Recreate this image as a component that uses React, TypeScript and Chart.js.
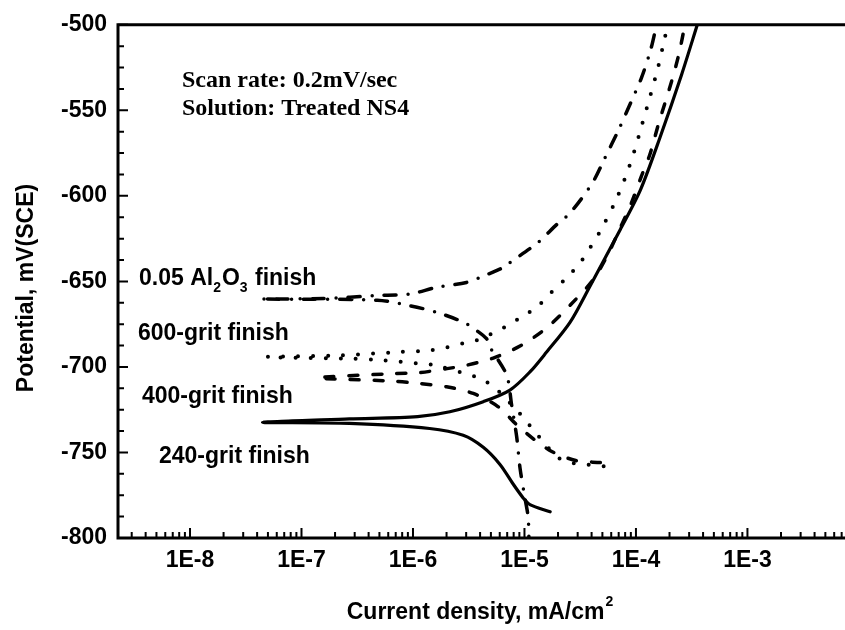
import React, { useEffect, useRef } from 'react';
import { Chart, registerables } from 'chart.js';

Chart.register(...registerables);

// ---------- data (current density in mA/cm², potential in mV vs SCE) ----------
// each path: cathodic end -> corrosion tip -> anodic end
const grit240Current = [
  1.70e-5, 1.12e-5, 9.77e-6, 7.94e-6, 6.03e-6, 4.27e-6, 2.82e-6, 1.41e-6, 2.69e-7, 4.47e-8,
  2.69e-7, 1.10e-6, 2.14e-6, 4.27e-6, 7.41e-6, 1.12e-5, 1.58e-5, 2.57e-5, 3.89e-5, 7.24e-5,
  1.10e-4, 1.64e-4, 2.57e-4, 3.55e-4,
];
const grit240Potential = [
  -784.7, -780.5, -776.7, -768.6, -757, -747, -740, -736, -733, -732.4,
  -730.4, -729, -726.2, -720.3, -713.5, -702.9, -691.3, -673.8, -652.5, -619.6,
  -596.3, -566, -529, -500,
];

const grit400Current = [
  4.79e-5, 2.88e-5, 1.66e-5, 8.91e-6, 5.82e-6, 3.47e-6, 2.00e-6, 1.15e-6, 6.61e-7, 1.41e-7,
  6.61e-7, 1.15e-6, 2.02e-6, 3.02e-6, 5.25e-6, 9.12e-6, 1.58e-5, 2.63e-5, 4.17e-5, 5.62e-5,
  7.24e-5, 9.12e-5, 1.12e-4, 1.33e-4, 1.60e-4, 2.09e-4, 2.43e-4, 2.75e-4,
];
const grit400Potential = [
  -755.9, -754.7, -748.5, -735, -723.3, -715.5, -711.6, -709.7, -708.3, -706.4,
  -703.9, -703.3, -701, -699, -694.8, -687.8, -677.2, -663.2, -648.7, -634,
  -618.6, -604, -588.5, -576, -557.6, -533, -517, -500,
];

const grit600Current = [
  5.13e-5, 3.72e-5, 2.75e-5, 2.00e-5, 1.20e-5, 9.44e-6, 5.43e-6, 3.98e-6, 2.95e-6, 1.58e-6,
  1.15e-6, 5.37e-7, 2.92e-7, 4.90e-8,
  2.24e-7, 7.41e-7, 1.41e-6, 1.95e-6, 2.75e-6, 3.72e-6, 6.68e-6, 9.33e-6, 1.29e-5, 1.74e-5,
  2.40e-5, 3.16e-5, 3.89e-5, 4.79e-5, 6.46e-5, 7.94e-5, 9.55e-5, 1.12e-4, 1.35e-4, 1.58e-4,
  1.78e-4, 1.93e-4,
];
const grit600Potential = [
  -758.1, -757.1, -756.2, -752.9, -736.8, -728.5, -712.2, -706.8, -703.9, -699,
  -698.1, -696.1, -695.2, -694.2,
  -693.2, -691.3, -690.3, -688.7, -686.4, -684.5, -676.7, -670.9, -665, -656.4,
  -647.7, -639, -630.2, -620.5, -604, -590, -575, -559.5, -541, -524.8,
  -510, -500,
];

const al2o3Current = [
  1.10e-5, 1.08e-5, 1.01e-5, 9.12e-6, 8.51e-6, 7.67e-6, 6.92e-6, 4.90e-6, 4.57e-6, 3.72e-6,
  2.82e-6, 1.62e-6, 9.33e-7, 4.79e-7, 4.27e-8,
  1.58e-7, 4.68e-7, 9.33e-7, 1.62e-6, 3.02e-6, 3.98e-6, 6.46e-6, 7.41e-6, 1.32e-5, 1.95e-5,
  2.57e-5, 4.07e-5, 5.25e-5, 6.92e-5, 8.91e-5, 1.12e-4, 1.35e-4, 1.53e-4,
];
const al2o3Potential = [
  -806, -788.2, -776.6, -759.1, -740.7, -722.3, -704.8, -688.4, -683.5, -678.7,
  -673.8, -668, -664.2, -661, -660.3,
  -660, -658.3, -657.4, -653.5, -650.6, -647.7, -641.9, -639, -627.3, -616.7,
  -610, -592.4, -578, -562, -546, -531, -515, -500,
];

const xTickValues = [1e-8, 1e-7, 1e-6, 1e-5, 1e-4, 1e-3];
const xTickLabels = ['1E-8', '1E-7', '1E-6', '1E-5', '1E-4', '1E-3'];
const yTickValues = [-800, -750, -700, -650, -600, -550, -500];
const xRange = [2.26e-9, 7.5e-3];
const yRange = [-800, -500];

const xTitle = 'Current density, mA/cm';
const xTitleSup = '2';
const yTitle = 'Potential, mV(SCE)';
const noteLines = ['Scan rate: 0.2mV/sec', 'Solution: Treated NS4'];
const finishLabels = ['0.05 Al_2O_3 finish', '600-grit finish', '400-grit finish', '240-grit finish'];

// ---------- helpers ----------
const SANS = '"Liberation Sans", Arial, Helvetica, sans-serif';
const SERIF = '"Liberation Serif", "Times New Roman", serif';

function pts(xs: number[], ys: number[]) {
  return xs.map((x, i) => ({ x, y: ys[i] }));
}

// draws text where "_d" marks a subscript character
function drawRich(ctx: CanvasRenderingContext2D, text: string, x: number, y: number, size: number) {
  const parts: { t: string; sub: boolean }[] = [];
  let buf = '';
  for (let i = 0; i < text.length; i++) {
    if (text[i] === '_' && i + 1 < text.length) {
      if (buf) parts.push({ t: buf, sub: false });
      buf = '';
      parts.push({ t: text[i + 1], sub: true });
      i++;
    } else buf += text[i];
  }
  if (buf) parts.push({ t: buf, sub: false });
  let cx = x;
  for (const p of parts) {
    ctx.font = `bold ${p.sub ? Math.round(size * 0.62) : size}px ${SANS}`;
    ctx.fillText(p.t, cx, p.sub ? y + size * 0.3 : y);
    cx += ctx.measureText(p.t).width + (p.sub ? 1 : 0);
  }
}

const decorPlugin = {
  id: 'decor',
  afterDraw(chart: any) {
    const { ctx, chartArea: a } = chart;
    const xs = chart.scales.x;
    const ys = chart.scales.y;
    ctx.save();
    ctx.strokeStyle = '#000';
    ctx.fillStyle = '#000';
    ctx.lineCap = 'butt';

    // frame: left, bottom, top
    ctx.lineWidth = 3;
    ctx.beginPath();
    ctx.moveTo(a.left, a.top);
    ctx.lineTo(a.right, a.top);
    ctx.moveTo(a.left, a.bottom);
    ctx.lineTo(a.right, a.bottom);
    ctx.moveTo(a.left, a.top - 1.5);
    ctx.lineTo(a.left, a.bottom + 1.5);
    ctx.stroke();

    // inward ticks
    ctx.lineWidth = 2;
    ctx.beginPath();
    for (let v = yRange[0]; v <= yRange[1] + 1e-6; v += 12.5) {
      const p = ys.getPixelForValue(v);
      const major = Math.abs((v - yRange[0]) % 50) < 1e-6;
      ctx.moveTo(a.left, p);
      ctx.lineTo(a.left + (major ? 10 : 6), p);
    }
    for (let e = -9; e <= -2; e++) {
      for (let k = 1; k <= 9; k++) {
        const v = k * Math.pow(10, e);
        if (v < xs.min || v > xs.max) continue;
        const p = xs.getPixelForValue(v);
        ctx.moveTo(p, a.bottom);
        ctx.lineTo(p, a.bottom - (k === 1 ? 10 : 6));
      }
    }
    ctx.stroke();

    // axis titles
    ctx.textBaseline = 'alphabetic';
    ctx.font = `bold 23px ${SANS}`;
    const wMain = ctx.measureText(xTitle).width;
    ctx.font = `bold 14px ${SANS}`;
    const wSup = ctx.measureText(xTitleSup).width;
    const cx = (a.left + a.right) / 2 - 2;
    const x0 = cx - (wMain + wSup) / 2;
    ctx.font = `bold 23px ${SANS}`;
    ctx.textAlign = 'left';
    ctx.fillText(xTitle, x0, 619);
    ctx.font = `bold 14px ${SANS}`;
    ctx.fillText(xTitleSup, x0 + wMain + 1, 606);

    ctx.save();
    ctx.translate(33, 288);
    ctx.rotate(-Math.PI / 2);
    ctx.font = `bold 23px ${SANS}`;
    ctx.textAlign = 'center';
    ctx.fillText(yTitle, 0, 0);
    ctx.restore();

    // notes
    ctx.textAlign = 'left';
    ctx.font = `bold 24px ${SERIF}`;
    ctx.fillText(noteLines[0], 182, 87);
    ctx.fillText(noteLines[1], 182, 115);

    // curve labels
    const labelPos = [
      [139, 285],
      [138, 340],
      [142, 403],
      [159, 463],
    ];
    finishLabels.forEach((t, i) => drawRich(ctx, t, labelPos[i][0], labelPos[i][1], 23));

    ctx.restore();
  },
};

export default function App() {
  const ref = useRef<HTMLCanvasElement>(null);

  useEffect(() => {
    if (!ref.current) return;
    const common = {
      borderColor: '#000',
      backgroundColor: '#000',
      pointRadius: 0,
      fill: false,
      tension: 0.3,
      borderCapStyle: 'round' as const,
      borderJoinStyle: 'round' as const,
    };
    const chart = new Chart(ref.current, {
      type: 'line',
      data: {
        datasets: [
          { ...common, label: finishLabels[0], data: pts(al2o3Current, al2o3Potential), borderWidth: 3.5, borderDash: [12, 12, 0, 12] },
          { ...common, label: finishLabels[1], data: pts(grit600Current, grit600Potential), borderWidth: 4, borderDash: [0, 15] },
          { ...common, label: finishLabels[2], data: pts(grit400Current, grit400Potential), borderWidth: 3.5, borderDash: [9, 15] },
          { ...common, label: finishLabels[3], data: pts(grit240Current, grit240Potential), borderWidth: 3.2 },
        ],
      },
      options: {
        animation: false,
        responsive: false,
        devicePixelRatio: 1,
        parsing: false as any,
        layout: { padding: { top: 20, left: 0, right: 0, bottom: 0 } },
        plugins: { legend: { display: false }, tooltip: { enabled: false } },
        scales: {
          x: {
            type: 'logarithmic',
            min: xRange[0],
            max: xRange[1],
            grid: { display: false, drawTicks: false },
            border: { display: false },
            afterBuildTicks: (s: any) => {
              s.ticks = xTickValues.map((v) => ({ value: v }));
            },
            afterFit: (s: any) => {
              s.height = 92;
            },
            ticks: {
              autoSkip: false,
              maxRotation: 0,
              minRotation: 0,
              padding: 9,
              color: '#000',
              font: { family: SANS, size: 23, weight: 'bold' },
              callback: (v: any) => {
                const i = xTickValues.findIndex((t) => Math.abs(t - Number(v)) / t < 1e-6);
                return i >= 0 ? xTickLabels[i] : '';
              },
            },
          },
          y: {
            type: 'linear',
            min: yRange[0],
            max: yRange[1],
            grid: { display: false, drawTicks: false },
            border: { display: false },
            afterBuildTicks: (s: any) => {
              s.ticks = yTickValues.map((v) => ({ value: v }));
            },
            afterFit: (s: any) => {
              s.width = 118;
            },
            ticks: {
              padding: 11,
              color: '#000',
              font: { family: SANS, size: 23, weight: 'bold' },
            },
          },
        },
      } as any,
      plugins: [decorPlugin],
    });
    return () => chart.destroy();
  }, []);

  return (
    <div style={{ position: 'fixed', left: 0, top: 0, width: 845, height: 630, background: '#fff' }}>
      <canvas ref={ref} width={845} height={630} style={{ display: 'block' }} />
    </div>
  );
}
